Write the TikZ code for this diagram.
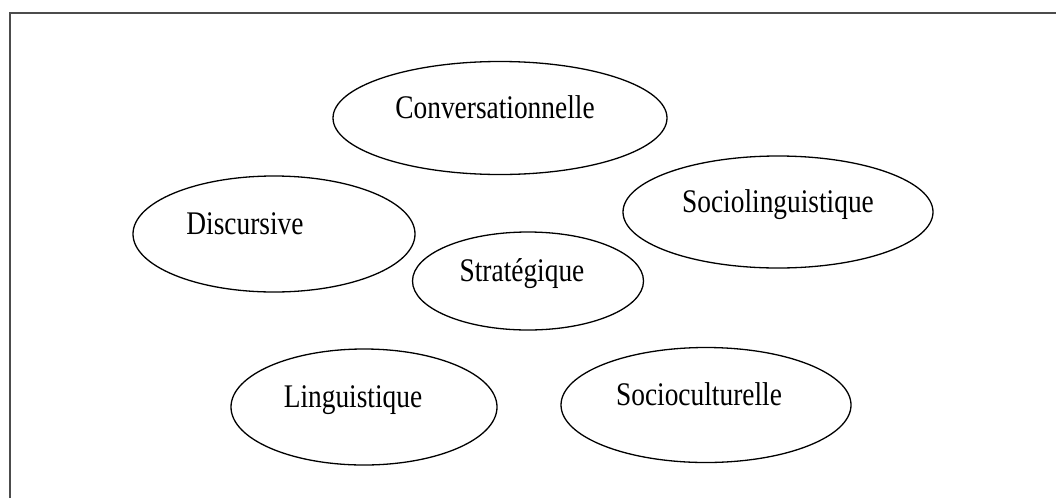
\documentclass[tikz,border=0pt]{standalone}
\usepackage{fontspec}
\setmainfont{Liberation Serif}[FakeStretch=0.83]
\usepackage{tikz}
\usepackage{xcolor}
\usetikzlibrary{shapes.geometric}

\begin{document}
\begin{tikzpicture}[x=1pt,y=-1pt,
      oval/.style={
        ellipse,
        draw,
        line width=1.3pt,
        inner sep=2pt,
        text height=22pt,
        text depth=22pt,
        font=\fontsize{33pt}{38pt}\selectfont
      }]

    \useasboundingbox (0,0) rectangle (1056,498);
    \draw[black!70,line width=2pt] (10,498) -- (10,13) -- (1056,13);

    \node[oval,minimum width=334pt,minimum height=113pt] (conv) at (500,118) {\hspace*{-10pt}Conversationnelle};
    \node[oval,minimum width=310pt,minimum height=112pt] (socling) at (778,212) {Sociolinguistique};
    \node[oval,minimum width=282pt,minimum height=116pt] (disc) at (274,234) {\hspace*{-58pt}Discursive};
    \node[oval,minimum width=231pt,minimum height=98pt] (strat) at (528,281) {\hspace*{-12pt}Stratégique};
    \node[oval,minimum width=266pt,minimum height=116pt] (ling) at (364,407) {\hspace*{-22pt}Linguistique};
    \node[oval,minimum width=290pt,minimum height=115pt] (soccult) at (706,405) {\hspace*{-14pt}Socioculturelle};
  \end{tikzpicture}
\end{document}
